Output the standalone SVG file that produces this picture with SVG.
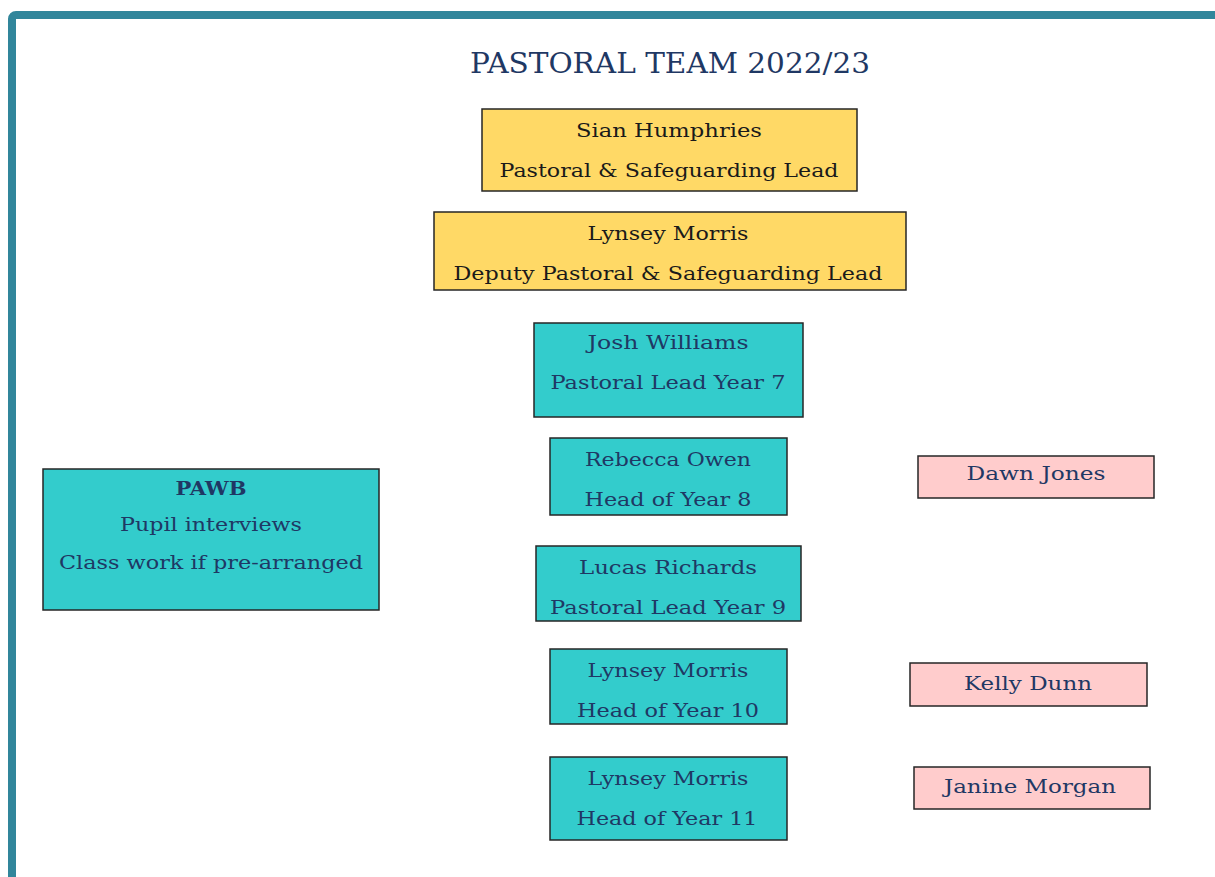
<svg xmlns="http://www.w3.org/2000/svg" width="1215" height="877" viewBox="0 0 1215 877">
<style>
.frame{fill:none;stroke:#31869B;stroke-width:8}
.box{stroke:#262626;stroke-width:1.5}
.y{fill:#FFD966}
.c{fill:#33CCCC}
.p{fill:#FFCCCC}
text{font-family:"DejaVu Serif","Liberation Serif",serif;font-size:19px;text-anchor:middle}
.dk{fill:#1a1a1a}
.nv{fill:#1F3864}
.title{font-size:27px;fill:#1F3864}
.b{font-weight:bold}
</style>
<rect class="frame" x="12" y="15" width="1230" height="900" rx="4"/>
<text class="title" x="670" y="73" textLength="400" lengthAdjust="spacingAndGlyphs">PASTORAL TEAM 2022/23</text>
<g id="connectors"></g>
<g id="sian">
<rect class="box y" x="482" y="109" width="375" height="82"/>
<text class="dk" x="669" y="137" textLength="186" lengthAdjust="spacingAndGlyphs">Sian Humphries</text>
<text class="dk" x="669" y="177" textLength="339" lengthAdjust="spacingAndGlyphs">Pastoral &amp; Safeguarding Lead</text>
</g>
<g id="lynsey-deputy">
<rect class="box y" x="434" y="212" width="472" height="78"/>
<text class="dk" x="668" y="240" textLength="161" lengthAdjust="spacingAndGlyphs">Lynsey Morris</text>
<text class="dk" x="668" y="280" textLength="429" lengthAdjust="spacingAndGlyphs">Deputy Pastoral &amp; Safeguarding Lead</text>
</g>
<g id="josh">
<rect class="box c" x="534" y="323" width="269" height="94"/>
<text class="nv" x="668" y="349" textLength="161" lengthAdjust="spacingAndGlyphs">Josh Williams</text>
<text class="nv" x="668" y="389" textLength="235" lengthAdjust="spacingAndGlyphs">Pastoral Lead Year 7</text>
</g>
<g id="rebecca">
<rect class="box c" x="550" y="438" width="237" height="77"/>
<text class="nv" x="668" y="466" textLength="166" lengthAdjust="spacingAndGlyphs">Rebecca Owen</text>
<text class="nv" x="668" y="506" textLength="167" lengthAdjust="spacingAndGlyphs">Head of Year 8</text>
</g>
<g id="lucas">
<rect class="box c" x="536" y="546" width="265" height="75"/>
<text class="nv" x="668" y="574" textLength="178" lengthAdjust="spacingAndGlyphs">Lucas Richards</text>
<text class="nv" x="668" y="614" textLength="236" lengthAdjust="spacingAndGlyphs">Pastoral Lead Year 9</text>
</g>
<g id="lynsey-y10">
<rect class="box c" x="550" y="649" width="237" height="75"/>
<text class="nv" x="668" y="677" textLength="161" lengthAdjust="spacingAndGlyphs">Lynsey Morris</text>
<text class="nv" x="668" y="717" textLength="182" lengthAdjust="spacingAndGlyphs">Head of Year 10</text>
</g>
<g id="lynsey-y11">
<rect class="box c" x="550" y="757" width="237" height="83"/>
<text class="nv" x="668" y="785" textLength="161" lengthAdjust="spacingAndGlyphs">Lynsey Morris</text>
<text class="nv" x="667" y="825" textLength="181" lengthAdjust="spacingAndGlyphs">Head of Year 11</text>
</g>
<g id="pawb">
<rect class="box c" x="43" y="469" width="336" height="141"/>
<text class="nv b" x="211" y="495" textLength="71" lengthAdjust="spacingAndGlyphs">PAWB</text>
<text class="nv" x="211" y="531" textLength="182" lengthAdjust="spacingAndGlyphs">Pupil interviews</text>
<text class="nv" x="211" y="569" textLength="304" lengthAdjust="spacingAndGlyphs">Class work if pre-arranged</text>
</g>
<g id="dawn">
<rect class="box p" x="918" y="456" width="236" height="42"/>
<text class="nv" x="1036" y="480" textLength="139" lengthAdjust="spacingAndGlyphs">Dawn Jones</text>
</g>
<g id="kelly">
<rect class="box p" x="910" y="663" width="237" height="43"/>
<text class="nv" x="1028" y="690" textLength="128" lengthAdjust="spacingAndGlyphs">Kelly Dunn</text>
</g>
<g id="janine">
<rect class="box p" x="914" y="767" width="236" height="42"/>
<text class="nv" x="1030" y="793" textLength="172" lengthAdjust="spacingAndGlyphs">Janine Morgan</text>
</g>
</svg>
